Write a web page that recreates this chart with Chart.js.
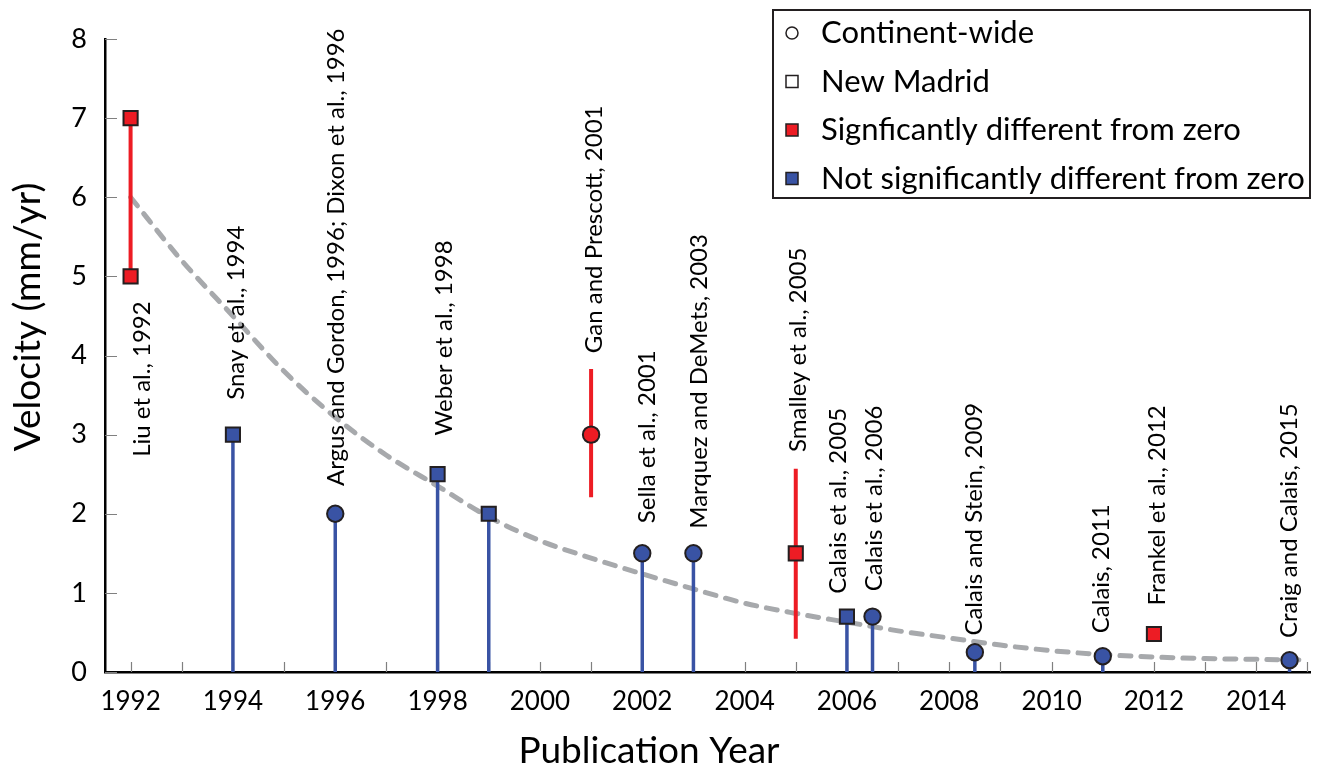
<!DOCTYPE html>
<html>
<head>
<meta charset="utf-8">
<title>Velocity vs publication year</title>
<script src="https://cdn.jsdelivr.net/npm/chart.js@4.4.0/dist/chart.umd.min.js"></script>
<style>
    html, body { margin: 0; padding: 0; background: #fff; }
    #wrap { width: 1322px; height: 773px; position: relative; }
</style>
</head>
<body>
<div id="wrap"><canvas id="velChart" width="1322" height="773"></canvas></div>
<script>
// ---- values ----

// dashed grey decay curve
const fitYears  = [1992, 1993, 1994, 1995, 1996, 1997, 1998, 1999, 2000, 2001, 2002, 2003,
                   2004, 2005, 2006, 2007, 2008, 2009, 2010, 2011, 2012, 2013, 2014, 2015];
const fitValues = [6.0, 5.2, 4.5, 3.8, 3.22, 2.74, 2.35, 1.96, 1.66, 1.44, 1.24, 1.05,
                   0.87, 0.74, 0.63, 0.52, 0.43, 0.34, 0.27, 0.22, 0.19, 0.17, 0.16, 0.15];

// red = significantly different from zero
const sigSquareYears  = [1992, 1992, 2005, 2012];
const sigSquareValues = [7, 5, 1.5, 0.48];
const sigCircleYears  = [2001];
const sigCircleValues = [3];

// blue = not significantly different from zero (drawn with a stem to 0)
const nsSquareYears  = [1994, 1998, 1999, 2006];
const nsSquareValues = [3, 2.5, 2, 0.7];
const nsCircleYears  = [1996, 2002, 2003, 2006.5, 2008.5, 2011, 2014.65];
const nsCircleValues = [2, 1.5, 1.5, 0.7, 0.25, 0.2, 0.15];

// error ranges on the red points
const errYears = [1992, 2001, 2005];
const errLow   = [5, 2.21, 0.42];
const errHigh  = [7, 3.83, 2.57];

// study labels (rotated), anchored at year / value where the text starts
const studyNames = ['Liu et al., 1992', 'Snay et al., 1994', 'Argus and Gordon, 1996; Dixon et al., 1996',
                    'Weber et al., 1998', 'Gan and Prescott, 2001', 'Sella et al., 2001',
                    'Marquez and DeMets, 2003', 'Smalley et al., 2005', 'Calais et al., 2005',
                    'Calais et al., 2006', 'Calais and Stein, 2009', 'Calais, 2011',
                    'Frankel et al., 2012', 'Craig and Calais, 2015'];
const studyLabelYears  = [1992.2, 1994.04, 1996.0, 1998.12, 2001.04, 2002.08, 2003.09,
                          2005.02, 2005.81, 2006.52, 2008.46, 2010.95, 2012.04, 2014.63];
const studyLabelValues = [2.72, 3.44, 2.35, 2.99, 4.03, 1.88, 1.81,
                          2.78, 0.99, 1.02, 0.46, 0.49, 0.84, 0.43];

const legendLabels = ['Continent-wide', 'New Madrid', 'Signficantly different from zero',
                      'Not significantly different from zero'];

// ---- styling ----
const RED = '#ED1C24';
const BLUE = '#3953A4';
const GREY = '#A7A9AC';
const INK = '#231F20';
const FONT = 'Lato';

Chart.defaults.font.family = FONT;
Chart.defaults.color = '#000';

const pts = (xs, ys) => xs.map((x, i) => ({ x: x, y: ys[i] }));

const datasets = [];

// fit curve (bottom)
datasets.push({
    data: pts(fitYears, fitValues),
    showLine: true,
    borderColor: GREY,
    borderWidth: 5,
    borderDash: [11, 10],
    borderCapStyle: 'round',
    cubicInterpolationMode: 'monotone',
    pointRadius: 0,
    order: 5
});

// stems for blue points
const stemYears = nsSquareYears.concat(nsCircleYears);
const stemValues = nsSquareValues.concat(nsCircleValues);
stemYears.forEach((yr, i) => {
    datasets.push({
        data: [{ x: yr, y: 0 }, { x: yr, y: stemValues[i] }],
        showLine: true,
        borderColor: BLUE,
        borderWidth: 3.5,
        pointRadius: 0,
        order: 3
    });
});

// error bars for red points
errYears.forEach((yr, i) => {
    datasets.push({
        data: [{ x: yr, y: errLow[i] }, { x: yr, y: errHigh[i] }],
        showLine: true,
        borderColor: RED,
        borderWidth: 4,
        pointRadius: 0,
        order: 3
    });
});

// markers
const marker = (xs, ys, color, style) => ({
    data: pts(xs, ys),
    pointStyle: style,
    pointRadius: style === 'rect' ? 10 : 8.2,
    pointBackgroundColor: color,
    pointBorderColor: INK,
    pointBorderWidth: 2,
    showLine: false,
    order: 0
});
datasets.push(marker(sigSquareYears, sigSquareValues, RED, 'rect'));
datasets.push(marker(sigCircleYears, sigCircleValues, RED, 'circle'));
datasets.push(marker(nsSquareYears, nsSquareValues, BLUE, 'rect'));
datasets.push(marker(nsCircleYears, nsCircleValues, BLUE, 'circle'));

// inward tick marks
const tickMarks = {
    id: 'tickMarks',
    beforeDatasetsDraw(chart) {
        const { ctx, chartArea, scales: { x, y } } = chart;
        ctx.save();
        ctx.strokeStyle = '#808080';
        ctx.lineWidth = 1.2;
        ctx.beginPath();
        x.ticks.forEach(t => {
            const px = Math.round(x.getPixelForValue(t.value)) + 0.5;
            ctx.moveTo(px, chartArea.bottom);
            ctx.lineTo(px, chartArea.bottom - 10);
        });
        y.ticks.forEach(t => {
            const py = Math.round(y.getPixelForValue(t.value)) + 0.5;
            ctx.moveTo(chartArea.left, py);
            ctx.lineTo(chartArea.left + 12, py);
        });
        ctx.stroke();
        ctx.restore();
    }
};

// rotated study labels, axis titles and legend box
const annotations = {
    id: 'annotations',
    afterDatasetsDraw(chart) {
        const { ctx, chartArea, scales: { x, y } } = chart;
        ctx.save();
        ctx.fillStyle = '#000';
        ctx.font = '24px ' + FONT;
        ctx.textAlign = 'left';
        ctx.textBaseline = 'middle';
        studyNames.forEach((name, i) => {
            ctx.save();
            ctx.translate(x.getPixelForValue(studyLabelYears[i]), y.getPixelForValue(studyLabelValues[i]));
            ctx.rotate(-Math.PI / 2);
            ctx.fillText(name, 0, 1);
            ctx.restore();
        });

        // axis titles
        ctx.font = '37px ' + FONT;
        ctx.textAlign = 'center';
        ctx.fillText('Publication Year', 649, 751);
        ctx.save();
        ctx.translate(28, 317);
        ctx.rotate(-Math.PI / 2);
        ctx.fillText('Velocity (mm/yr)', 0, 0);
        ctx.restore();

        // legend
        const bx = 773, by = 10, bw = chartArea.right - bx, bh = 188;
        ctx.lineWidth = 2;
        ctx.strokeStyle = INK;
        ctx.strokeRect(bx, by, bw, bh);
        ctx.font = '31px ' + FONT;
        ctx.textAlign = 'left';
        legendLabels.forEach((label, i) => {
            const cy = by + 23 + i * 48.5;
            const mx = 792;
            ctx.lineWidth = 1.5;
            ctx.strokeStyle = INK;
            ctx.beginPath();
            if (i === 0) {
                ctx.arc(mx, cy, 6, 0, Math.PI * 2);
                ctx.stroke();
            } else {
                ctx.rect(mx - 6, cy - 6, 12, 12);
                if (i === 2) { ctx.fillStyle = RED; ctx.fill(); }
                if (i === 3) { ctx.fillStyle = BLUE; ctx.fill(); }
                ctx.stroke();
            }
            ctx.fillStyle = '#000';
            ctx.fillText(label, 821, cy);
        });
        ctx.restore();
    }
};

const ctx = document.getElementById('velChart').getContext('2d');
new Chart(ctx, {
    type: 'scatter',
    data: { datasets: datasets },
    options: {
        responsive: false,
        animation: false,
        layout: { padding: { left: 0, right: 7, top: 39, bottom: 0 } },
        plugins: {
            legend: { display: false },
            tooltip: { enabled: false }
        },
        scales: {
            x: {
                type: 'linear',
                min: 1991.5,
                max: 2015.05,
                grid: { display: true, drawOnChartArea: false, drawTicks: false },
                border: { display: true, color: '#000', width: 2.5 },
                ticks: {
                    stepSize: 1,
                    includeBounds: false,
                    autoSkip: false,
                    maxRotation: 0,
                    padding: 14,
                    font: { size: 26 },
                    color: '#000',
                    callback: (v) => (v % 2 === 0 ? String(v) : '')
                },
                afterFit: (s) => { s.height = 101; }
            },
            y: {
                min: 0,
                max: 8,
                grid: { display: true, drawOnChartArea: false, drawTicks: false },
                border: { display: true, color: '#000', width: 2.5 },
                ticks: {
                    stepSize: 1,
                    padding: 18,
                    font: { size: 27 },
                    color: '#000'
                },
                afterFit: (s) => { s.width = 105; }
            }
        }
    },
    plugins: [tickMarks, annotations]
});
</script>
</body>
</html>
